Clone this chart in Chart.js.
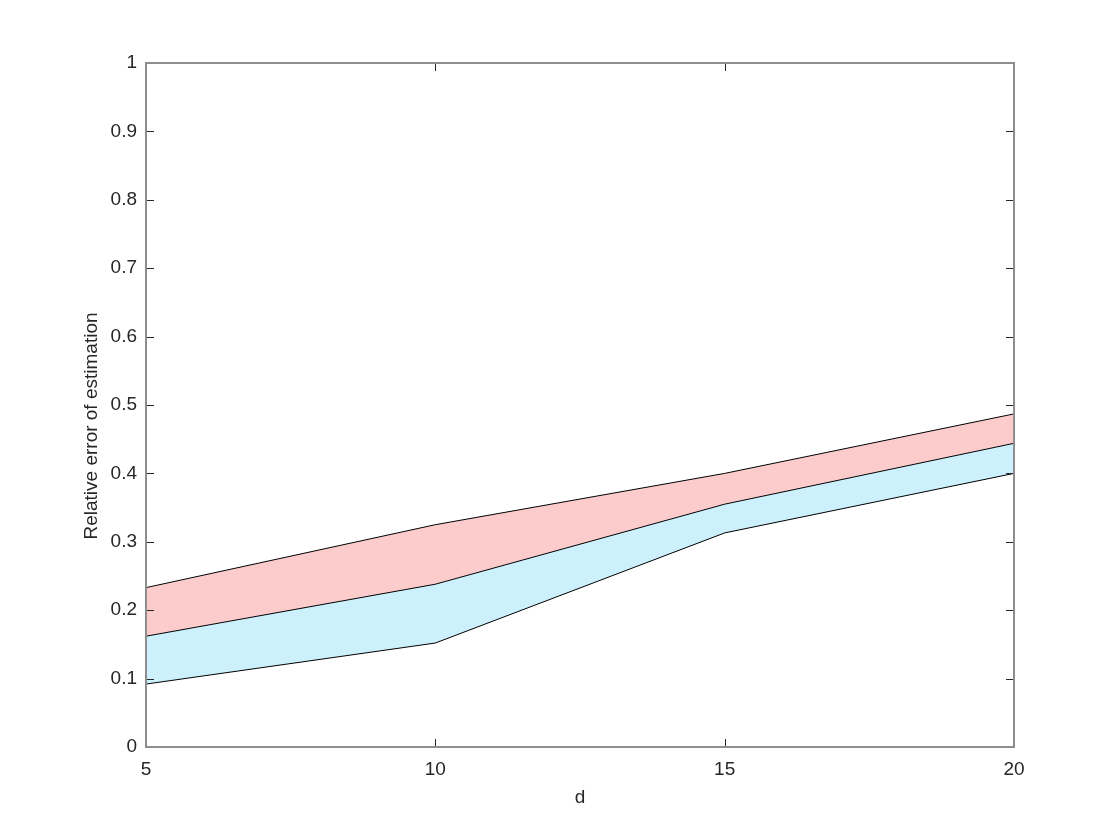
<!DOCTYPE html>
<html>
<head>
<meta charset="utf-8">
<script src="https://cdn.jsdelivr.net/npm/chart.js@4/dist/chart.umd.min.js"></script>
<style>
  html, body { margin: 0; padding: 0; background: #ffffff; }
  #wrap { width: 1120px; height: 840px; }
</style>
</head>
<body>
<div id="wrap"><canvas id="c" width="1120" height="840"></canvas></div>
<script>
// ---- data ----
const dValues = [5, 10, 15, 20];
const lowerBound = [0.092, 0.152, 0.313, 0.400];
const middleLine = [0.162, 0.238, 0.355, 0.444];
const upperBound = [0.233, 0.325, 0.400, 0.487];
const xTicks = [5, 10, 15, 20];
const yTicks = [0, 0.1, 0.2, 0.3, 0.4, 0.5, 0.6, 0.7, 0.8, 0.9, 1];
const xLabel = 'd';
const yLabel = 'Relative error of estimation';

const FONT = '"Liberation Sans", Arial, Helvetica, sans-serif';
const TEXT = '#262626';

const toPts = arr => dValues.map((x, i) => ({ x: x, y: arr[i] }));

const boxPlugin = {
  id: 'boxPlugin',
  afterDatasetsDraw(chart) {
    const { ctx, chartArea: a, scales } = chart;
    const xs = scales.x, ys = scales.y;
    ctx.save();
    // inner tick marks
    ctx.strokeStyle = '#262626';
    ctx.lineWidth = 1;
    const tl = 8;
    ctx.beginPath();
    yTicks.forEach(v => {
      const py = Math.round(ys.getPixelForValue(v)) + 0.5;
      ctx.moveTo(a.left, py); ctx.lineTo(a.left + tl, py);
      ctx.moveTo(a.right, py); ctx.lineTo(a.right - tl, py);
    });
    xTicks.forEach(v => {
      const px = Math.round(xs.getPixelForValue(v)) + 0.5;
      ctx.moveTo(px, a.bottom); ctx.lineTo(px, a.bottom - tl);
      ctx.moveTo(px, a.top); ctx.lineTo(px, a.top + tl);
    });
    ctx.stroke();
    // box
    ctx.strokeStyle = '#8e8e8e';
    ctx.lineWidth = 2;
    ctx.strokeRect(a.left, a.top, a.right - a.left, a.bottom - a.top);
    // axis titles
    ctx.fillStyle = TEXT;
    ctx.font = '19px ' + FONT;
    ctx.textAlign = 'center';
    ctx.textBaseline = 'middle';
    ctx.fillText(xLabel, (a.left + a.right) / 2, 798);
    ctx.translate(92, 426);
    ctx.rotate(-Math.PI / 2);
    ctx.fillText(yLabel, 0, 0);
    ctx.restore();
  }
};

new Chart(document.getElementById('c'), {
  type: 'line',
  data: {
    datasets: [
      { data: toPts(lowerBound), borderColor: '#000000', borderWidth: 1, pointRadius: 0, fill: false, tension: 0 },
      { data: toPts(middleLine), borderColor: '#000000', borderWidth: 1, pointRadius: 0, fill: '-1', backgroundColor: 'rgb(204,240,252)', tension: 0 },
      { data: toPts(upperBound), borderColor: '#000000', borderWidth: 1, pointRadius: 0, fill: '-1', backgroundColor: 'rgb(252,204,204)', tension: 0 }
    ]
  },
  options: {
    responsive: false,
    animation: false,
    events: [],
    layout: { padding: { left: 0, top: 63, right: 106, bottom: 0 } },
    plugins: { legend: { display: false }, tooltip: { enabled: false }, title: { display: false } },
    scales: {
      x: {
        type: 'linear',
        min: 5, max: 20,
        afterBuildTicks: s => { s.ticks = xTicks.map(v => ({ value: v })); },
        afterFit: s => { s.height = 93; },
        grid: { display: false, drawTicks: false },
        border: { display: false },
        ticks: { padding: 11, color: TEXT, font: { family: FONT, size: 19 }, maxRotation: 0, autoSkip: false,
                 callback: v => String(v) }
      },
      y: {
        type: 'linear',
        min: 0, max: 1,
        afterBuildTicks: s => { s.ticks = yTicks.map(v => ({ value: v })); },
        afterFit: s => { s.width = 146; },
        grid: { display: false, drawTicks: false },
        border: { display: false },
        ticks: { padding: 9, color: TEXT, font: { family: FONT, size: 19 }, autoSkip: false,
                 callback: v => String(Math.round(v * 10) / 10) }
      }
    }
  },
  plugins: [boxPlugin]
});
</script>
</body>
</html>
